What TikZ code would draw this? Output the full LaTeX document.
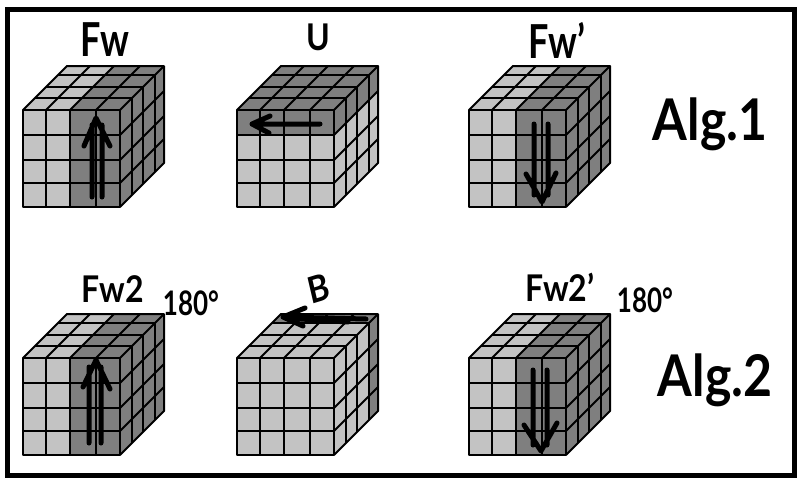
\documentclass[tikz,border=0pt]{standalone}
\usepackage{fontspec}
\setmainfont{Lato}[BoldFont=* Bold]
\definecolor{lightface}{HTML}{C3C3C3}
\definecolor{darkface}{HTML}{7F7F7F}
\tikzset{%
  % Specifications for style of nodes and lines:
       hand/.style = {inner sep=0pt, text=black},
    alghand/.style = {hand, font=\fontsize{50}{50}\selectfont\bfseries, yscale=1.15, transform shape},
    bighand/.style = {hand, font=\fontsize{36}{36}\selectfont\bfseries, yscale=1.3, transform shape},
    midhand/.style = {hand, font=\fontsize{32}{32}\selectfont\bfseries, yscale=1.15, transform shape},
  smallhand/.style = {hand, font=\fontsize{26}{26}\selectfont\bfseries, yscale=1.3, transform shape},
       grid/.style = {draw=black, line width=2pt},
        pen/.style = {draw=black, line width=5pt, line cap=round, line join=round},
      frame/.style = {draw=black, line width=5pt},
}
% one cube: x, y of the front top left corner, then the dark patches
\newcommand{\drawcube}[3]{%
  \begin{scope}[shift={(#1,#2)}]
    \fill[lightface] (0,0) -- (97,0) -- (141,-44) -- (141,53) -- (97,97) -- (0,97) -- (0,0) -- (44,-44) -- (141,-44) -- (97,0) -- cycle;
    #3
    \foreach \c in {23,47,73} {
      \draw[grid] (\c,0) -- (\c,97);
      \draw[grid] (\c,0) -- ++(44,-44);
    }
    \foreach \r in {25,50,73} {
      \draw[grid] (0,\r) -- (97,\r);
      \draw[grid] (97,\r) -- ++(44,-44);
    }
    \foreach \d in {12,23,35} {
      \draw[grid] (\d,-\d) -- ++(97,0) -- ++(0,97);
    }
    \draw[grid, line join=round] (0,0) -- (97,0) -- (97,97) -- (0,97) -- cycle;
    \draw[grid, line join=round] (0,0) -- (44,-44) -- (141,-44) -- (141,53) -- (97,97);
    \draw[grid] (97,0) -- (141,-44);
  \end{scope}
}
\newcommand{\darkwide}{%
  \fill[darkface] (47,0) -- (97,0) -- (97,97) -- (47,97) -- cycle;
  \fill[darkface] (47,0) -- (97,0) -- (141,-44) -- (91,-44) -- cycle;
  \fill[darkface] (97,0) -- (141,-44) -- (141,53) -- (97,97) -- cycle;
}
\newcommand{\darktop}{%
  \fill[darkface] (0,0) -- (97,0) -- (97,25) -- (0,25) -- cycle;
  \fill[darkface] (0,0) -- (97,0) -- (141,-44) -- (44,-44) -- cycle;
  \fill[darkface] (97,0) -- (141,-44) -- (141,-19) -- (97,25) -- cycle;
}
\newcommand{\darkback}{%
  \fill[darkface] (35,-35) -- (132,-35) -- (141,-44) -- (44,-44) -- cycle;
  \fill[darkface] (132,-35) -- (141,-44) -- (141,53) -- (132,62) -- cycle;
}

\begin{document}
\begin{tikzpicture}[x=1pt, y=-1pt]
  \useasboundingbox (0,0) rectangle (804,485);
  \fill[white] (0,0) rectangle (804,485);
  \draw[frame] (7.5,9.5) rectangle (794.5,475.5);

  % Specification of cubes
  \drawcube{23}{110}{\darkwide}
  \drawcube{237}{110}{\darktop}
  \drawcube{469}{110}{\darkwide}
  \drawcube{23}{358}{\darkwide}
  \drawcube{237}{358}{\darkback}
  \drawcube{469}{358}{\darkwide}

  % Specification of labels
  \node (fw)      [bighand] at (105,40) {Fw};
  \node (u)       [midhand] at (318,37) {U};
  \node (fwi)     [bighand] at (557,40) {Fw'};
  \node (algone)  [alghand] at (710,124) {Alg.1};
  \node (fwtwo)   [midhand] at (113,289) {Fw2};
  \node (degone)  [smallhand] at (191,303) {180°};
  \node (b)       [midhand, rotate=15] at (319,289) {B};
  \node (fwtwoi)  [midhand] at (560,287) {Fw2'};
  \node (degtwo)  [smallhand] at (645,300) {180°};
  \node (algtwo)  [alghand] at (715,380) {Alg.2};

  % Specification of arrows
  \draw[pen] (92,197) -- (92,125) (102,197) -- (102,125) (84,146) -- (96,118) -- (110,146);
  \draw[pen] (320,124) -- (252,124) (270,116) -- (252,124) -- (269,133);
  \draw[pen] (534,124) -- (534,195) (548,124) -- (548,195) (526,174) -- (542,202) -- (556,173);
  \draw[pen] (89,443) -- (89,367) (101,443) -- (101,367) (83,387) -- (96,360) -- (110,389);
  \draw[pen] (366,319) -- (283,317) (348,322) -- (285,318) (305,308) -- (283,317) -- (303,326);
  \draw[pen] (533,370) -- (533,445) (547,370) -- (547,445) (524,425) -- (541,451) -- (557,423);
\end{tikzpicture}
\end{document}
